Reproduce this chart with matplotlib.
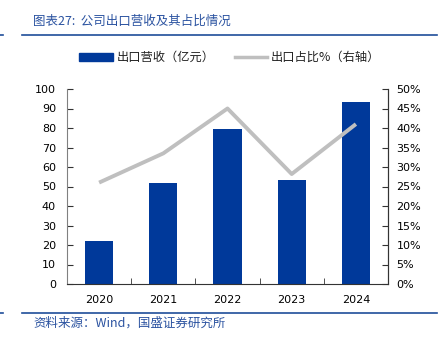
import numpy as np
import matplotlib
matplotlib.use('Agg')
from matplotlib import pyplot as plt
from matplotlib.patches import Rectangle
from matplotlib.lines import Line2D

plt.rcParams['font.family'] = ['DejaVu Sans', 'Noto Sans CJK SC']

years = ['2020', '2021', '2022', '2023', '2024']
revenue = [22, 52, 79.5, 53.5, 93.5]        # 出口营收（亿元）
share = [26.0, 33.5, 45.0, 28.2, 41.0]       # 出口占比%

blue = '#00399A'
grey = '#BFBFBF'
cjk = ['Noto Sans CJK SC', 'DejaVu Sans']

fig = plt.figure(figsize=(4.43, 3.41), dpi=100)
ax = fig.add_axes([67/443, 1-284/341, 321/443, 195/341])
x = np.arange(len(years))
ax.bar(x, revenue, width=0.44, color=blue, zorder=2)
ax.set_xlim(-0.5, 4.5)
ax.set_ylim(0, 100)
ax.set_yticks(range(0, 101, 10))
ax.tick_params(axis='y', direction='in', length=4, labelsize=8, pad=8, color='#333333')
ax.set_xticks(x)
ax.set_xticklabels(years)
ax.tick_params(axis='x', length=0, labelsize=8, pad=8)
ax.set_xticks(np.arange(-0.5, 5, 1), minor=True)
ax.tick_params(axis='x', which='minor', direction='in', length=4, color='#333333')
ax.spines['top'].set_visible(False)
ax.spines['left'].set_color('#808080')
ax.spines['bottom'].set_color('#333333')
ax.spines['right'].set_color('#333333')

ax2 = ax.twinx()
ax2.plot(x, share, color=grey, lw=2.8, solid_capstyle='butt', zorder=3)
ax2.set_ylim(0, 50)
ax2.set_yticks(range(0, 51, 5))
ax2.set_yticklabels([f'{v}%' for v in range(0, 51, 5)])
ax2.tick_params(axis='y', direction='in', length=4, labelsize=8, pad=6, color='#333333')
ax2.spines['top'].set_visible(False)
ax2.spines['left'].set_visible(False)
ax2.spines['bottom'].set_visible(False)
ax2.spines['right'].set_color('#333333')

# title and source
line_blue = '#2A52A0'
fig.text(33/443, 1-21/341, '图表27:  公司出口营收及其占比情况', family=cjk, style='italic',
         fontsize=9, color=line_blue, va='center')
for yy in (35, 313):
    fig.add_artist(Line2D([22/443, 437/443], [1-yy/341, 1-yy/341], color='#1F4E9A', lw=1.2))
    fig.add_artist(Line2D([0, 3/443], [1-yy/341, 1-yy/341], color='#1F4E9A', lw=1.2))
fig.text(33/443, 1-323/341, '资料来源：Wind，国盛证券研究所', family=cjk, style='italic',
         fontsize=9, color=line_blue, va='center')

# legend
fig.add_artist(Rectangle((79/443, 1-61/341), 34/443, 8/341, color=blue, transform=fig.transFigure))
fig.text(117/443, 1-57/341, '出口营收（亿元）', family=cjk, fontsize=8.8, va='center', color='#222222')
fig.add_artist(Line2D([235/443, 267/443], [1-57/341, 1-57/341], color=grey, lw=2.5))
fig.text(271/443, 1-57/341, '出口占比%（右轴）', family=cjk, fontsize=8.8, va='center', color='#222222')

fig.savefig('out.png', dpi=100)
